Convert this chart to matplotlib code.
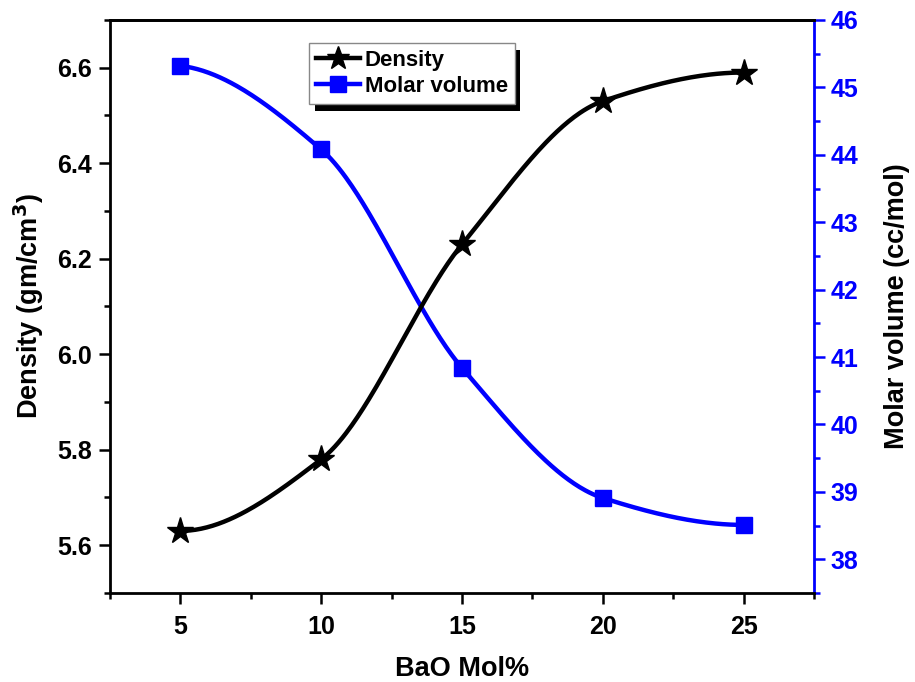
import numpy as np
import matplotlib
matplotlib.use('Agg')
from matplotlib import pyplot as plt
from matplotlib import patheffects
from matplotlib.ticker import MultipleLocator

plt.rcParams['font.family'] = ['Liberation Sans', 'DejaVu Sans']
plt.rcParams['font.weight'] = 'bold'
plt.rcParams['mathtext.default'] = 'bf'

# composition (mol% BaO)
bao = [5, 10, 15, 20, 25]
density = [5.63, 5.78, 6.23, 6.53, 6.59]          # gm/cm^3
molar_volume = [45.32, 44.08, 40.84, 38.91, 38.51]  # cc/mol

BLUE = '#0000ff'


def pchip(x, y, xs):
    # shape preserving cubic through the measured points
    x = np.asarray(x, float)
    y = np.asarray(y, float)
    h = np.diff(x)
    d = np.diff(y) / h
    n = len(x)
    m = np.zeros(n)
    for k in range(1, n - 1):
        if d[k - 1] * d[k] > 0:
            w1 = 2 * h[k] + h[k - 1]
            w2 = h[k] + 2 * h[k - 1]
            m[k] = (w1 + w2) / (w1 / d[k - 1] + w2 / d[k])
    def end(h0, h1, d0, d1):
        s = ((2 * h0 + h1) * d0 - h0 * d1) / (h0 + h1)
        if np.sign(s) != np.sign(d0):
            s = 0.0
        elif np.sign(d0) != np.sign(d1) and abs(s) > abs(3 * d0):
            s = 3 * d0
        return s
    m[0] = end(h[0], h[1], d[0], d[1])
    m[-1] = end(h[-1], h[-2], d[-1], d[-2])
    idx = np.clip(np.searchsorted(x, xs) - 1, 0, n - 2)
    t = (xs - x[idx]) / h[idx]
    h00 = 2 * t**3 - 3 * t**2 + 1
    h10 = t**3 - 2 * t**2 + t
    h01 = -2 * t**3 + 3 * t**2
    h11 = t**3 - t**2
    return h00 * y[idx] + h10 * h[idx] * m[idx] + h01 * y[idx + 1] + h11 * h[idx] * m[idx + 1]


xs = np.linspace(bao[0], bao[-1], 300)

fig = plt.figure(figsize=(9.15, 6.82), dpi=100)
ax = fig.add_axes([0.1202, 0.1305, 0.7694, 0.8402])
ax2 = ax.twinx()

ax.plot(xs, pchip(bao, density, xs), color='black', lw=3.2, zorder=2)
ax.plot(bao, density, ls='none', marker='*', ms=20, color='black', zorder=3)
ax2.plot(xs, pchip(bao, molar_volume, xs), color=BLUE, lw=3.2, zorder=2)
ax2.plot(bao, molar_volume, ls='none', marker='s', ms=12, color=BLUE, zorder=3)

ax.set_xlim(2.5, 27.5)
ax.set_ylim(5.5, 6.7)
ax2.set_ylim(37.5, 46)

ax.xaxis.set_minor_locator(MultipleLocator(2.5))
ax.yaxis.set_minor_locator(MultipleLocator(0.1))
ax2.yaxis.set_minor_locator(MultipleLocator(0.5))
ax.set_xticks([5, 10, 15, 20, 25])
ax.set_yticks([5.6, 5.8, 6.0, 6.2, 6.4, 6.6])
ax.set_yticklabels(['5.6', '5.8', '6.0', '6.2', '6.4', '6.6'])
ax2.set_yticks(range(38, 47))

for a in (ax, ax2):
    for s in a.spines.values():
        s.set_linewidth(2)
ax.spines['right'].set_visible(False)
ax2.spines['left'].set_visible(False)
ax2.spines['bottom'].set_visible(False)
ax2.spines['right'].set_color(BLUE)

ax.tick_params(axis='both', which='major', direction='out', length=8, width=1.8,
               labelsize=18, pad=5)
ax.tick_params(axis='both', which='minor', direction='out', length=4.5, width=1.8)
ax.tick_params(axis='x', top=False, which='both')
ax.tick_params(axis='x', pad=8)
ax2.tick_params(axis='y', which='major', direction='out', length=8, width=1.8,
                labelsize=18, colors=BLUE, pad=4)
ax2.tick_params(axis='y', which='minor', direction='out', length=4.5, width=1.8,
                colors=BLUE)

ax.set_xlabel('BaO Mol%', fontsize=19.5, fontweight='bold', labelpad=12)
ax.set_ylabel('Density (gm/cm$^3$)', fontsize=19.5, fontweight='bold', labelpad=8)
ax2.set_ylabel('Molar volume (cc/mol)', fontsize=19.5, fontweight='bold', labelpad=18)

h1 = plt.Line2D([], [], color='black', lw=3.2, marker='*', ms=17)
h2 = plt.Line2D([], [], color=BLUE, lw=3.2, marker='s', ms=11)
leg = ax.legend([h1, h2], ['Density', 'Molar volume'], loc='upper left',
                bbox_to_anchor=(0.283, 0.96), borderaxespad=0, fancybox=False,
                framealpha=1, edgecolor='#888888', prop={'size': 16, 'weight': 'bold'},
                handlelength=2.0, handletextpad=0.2, borderpad=0.3, labelspacing=0.25)
leg.get_frame().set_linewidth(1)
leg.get_frame().set_path_effects([
    patheffects.SimplePatchShadow(offset=(4, -5), shadow_rgbFace='black', alpha=1),
    patheffects.Normal()])
leg.set_zorder(5)
ax.set_zorder(ax2.get_zorder() + 1)
ax.patch.set_visible(False)

fig.savefig('out.png', dpi=100)
